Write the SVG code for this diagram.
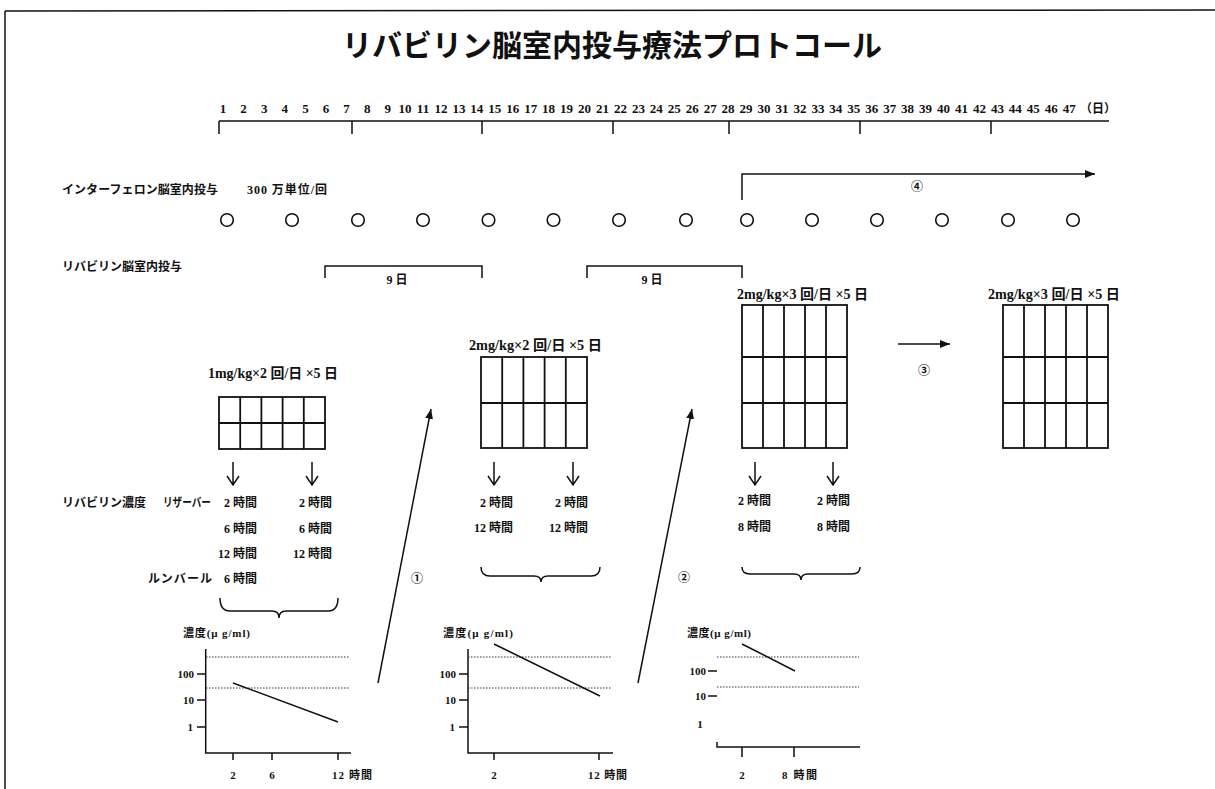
<svg xmlns="http://www.w3.org/2000/svg" width="1215" height="789" viewBox="0 0 1215 789">
<style>
text { font-family: "Liberation Serif", "Noto Sans CJK JP", serif; fill:#111; font-weight:bold; font-size:12px; }
.title { font-family: "Noto Sans CJK JP", sans-serif; font-size:30px; font-weight:bold; text-anchor:middle; }
.jp { font-family: "Noto Sans CJK JP", sans-serif; font-size:12px; font-weight:bold; }
.num { font-size:13px; text-anchor:middle; }
.dose { font-size:14px; }
.mid { text-anchor:middle; }
.end { text-anchor:end; }
.s { font-size:11px; }
.ln { stroke:#111; stroke-width:1.5; fill:none; }
.grid { stroke:#111; stroke-width:1.8; fill:none; }
.dot { stroke:#333; stroke-width:1; stroke-dasharray:1.5 1.5; fill:none; }
.circ { fill:none; stroke:#111; stroke-width:1.6; }
</style>
<defs>
<marker id="ah" viewBox="0 0 10 8" refX="10" refY="4" markerWidth="10" markerHeight="8" markerUnits="userSpaceOnUse" orient="auto"><path d="M0 0 L10 4 L0 8 z" fill="#111"/></marker>
</defs>

<!-- frame -->
<g id="frame">
<line x1="5" y1="11" x2="1215" y2="10" class="ln"/>
<line x1="5" y1="11" x2="5" y2="789" class="ln"/>
</g>

<g id="title"><text x="612" y="56" class="title">リバビリン脳室内投与療法プロトコール</text></g>

<!-- timeline -->
<g id="timeline">
<text y="113" class="num"><tspan x="223">1</tspan><tspan x="243.6">2</tspan><tspan x="264.2">3</tspan><tspan x="284.8">4</tspan><tspan x="305.4">5</tspan><tspan x="326">6</tspan><tspan x="346.6">7</tspan><tspan x="367.2">8</tspan><tspan x="387.8">9</tspan><tspan x="405">10</tspan><tspan x="423">11</tspan><tspan x="440.9">12</tspan><tspan x="458.9">13</tspan><tspan x="476.8">14</tspan><tspan x="494.8">15</tspan><tspan x="512.7">16</tspan><tspan x="530.7">17</tspan><tspan x="548.6">18</tspan><tspan x="566.6">19</tspan><tspan x="584.5">20</tspan><tspan x="602.5">21</tspan><tspan x="620.4">22</tspan><tspan x="638.4">23</tspan><tspan x="656.3">24</tspan><tspan x="674.3">25</tspan><tspan x="692.2">26</tspan><tspan x="710.2">27</tspan><tspan x="728.1">28</tspan><tspan x="746.1">29</tspan><tspan x="764">30</tspan><tspan x="782">31</tspan><tspan x="799.9">32</tspan><tspan x="817.9">33</tspan><tspan x="835.8">34</tspan><tspan x="853.8">35</tspan><tspan x="871.7">36</tspan><tspan x="889.7">37</tspan><tspan x="907.6">38</tspan><tspan x="925.6">39</tspan><tspan x="943.5">40</tspan><tspan x="961.5">41</tspan><tspan x="979.4">42</tspan><tspan x="997.4">43</tspan><tspan x="1015.3">44</tspan><tspan x="1033.3">45</tspan><tspan x="1051.2">46</tspan><tspan x="1069.2">47</tspan></text>
<text x="1098" y="113" class="mid">（日）</text>
<path d="M219 121 H1109 M219 121 V134 M352 121 V134 M482 121 V134 M613 121 V134 M729 121 V134 M860 121 V134 M991 121 V134" class="ln"/>
</g>

<!-- interferon row -->
<g id="interferon">
<text x="62" y="194" class="jp" textLength="156" lengthAdjust="spacing">インターフェロン脳室内投与</text>
<text x="247" y="194" textLength="80" lengthAdjust="spacing">300 万単位/回</text>
<circle cx="227" cy="220" r="6.3" class="circ"/>
<circle cx="292" cy="220" r="6.3" class="circ"/>
<circle cx="358" cy="220" r="6.3" class="circ"/>
<circle cx="423" cy="220" r="6.3" class="circ"/>
<circle cx="488.5" cy="220" r="6.3" class="circ"/>
<circle cx="553.5" cy="220" r="6.3" class="circ"/>
<circle cx="619" cy="220" r="6.3" class="circ"/>
<circle cx="686" cy="220" r="6.3" class="circ"/>
<circle cx="747" cy="220" r="6.3" class="circ"/>
<circle cx="812" cy="220" r="6.3" class="circ"/>
<circle cx="877" cy="220" r="6.3" class="circ"/>
<circle cx="942" cy="220" r="6.3" class="circ"/>
<circle cx="1008" cy="220" r="6.3" class="circ"/>
<circle cx="1073" cy="220" r="6.3" class="circ"/>
</g>

<!-- ribavirin row -->
<g id="ribavirin">
<text x="62" y="271" class="jp">リバビリン脳室内投与</text>
<path d="M325 278 V266 H482 V278" class="ln"/>
<text x="397" y="284" class="mid">9 日</text>
<path d="M587 278 V266 H742 V278" class="ln"/>
<text x="652" y="284" class="mid">9 日</text>
</g>

<!-- dosing grids -->
<g id="grid1">
<text x="208" y="378" class="dose" textLength="130" lengthAdjust="spacingAndGlyphs">1mg/kg×2 回/日 ×5 日</text>
<rect x="219" y="397" width="106" height="52" class="grid"/>
<path d="M240.2 397 V449 M261.4 397 V449 M282.6 397 V449 M303.8 397 V449 M219 423 H325" class="grid"/>
</g>
<g id="grid2">
<text x="469" y="350" class="dose" textLength="133" lengthAdjust="spacingAndGlyphs">2mg/kg×2 回/日 ×5 日</text>
<rect x="481" y="357" width="106" height="91" class="grid"/>
<path d="M502.2 357 V448 M523.4 357 V448 M544.6 357 V448 M565.8 357 V448 M481 403 H587" class="grid"/>
</g>
<g id="grid3">
<text x="737" y="299" class="dose" textLength="131" lengthAdjust="spacingAndGlyphs">2mg/kg×3 回/日 ×5 日</text>
<rect x="742" y="305" width="105" height="143" class="grid"/>
<path d="M763 305 V448 M784 305 V448 M805 305 V448 M826 305 V448 M742 357 H847 M742 403 H847" class="grid"/>
</g>
<g id="grid4">
<text x="988" y="299" class="dose" textLength="132" lengthAdjust="spacingAndGlyphs">2mg/kg×3 回/日 ×5 日</text>
<rect x="1003" y="305" width="105" height="143" class="grid"/>
<path d="M1024 305 V448 M1045 305 V448 M1066 305 V448 M1087 305 V448 M1003 357 H1108 M1003 403 H1108" class="grid"/>
</g>

<!-- sampling labels -->
<g id="sampling">
<text x="62" y="507" class="jp">リバビリン濃度</text>
<text x="163" y="507" class="jp" textLength="48" lengthAdjust="spacingAndGlyphs">リザーバー</text>
<text x="148" y="583" class="jp" textLength="64" lengthAdjust="spacing">ルンバール</text>
<text x="257" y="507" class="end">2 時間</text>
<text x="257" y="533" class="end">6 時間</text>
<text x="257" y="558" class="end">12 時間</text>
<text x="257" y="583" class="end">6 時間</text>
<text x="332" y="507" class="end">2 時間</text>
<text x="332" y="533" class="end">6 時間</text>
<text x="332" y="558" class="end">12 時間</text>
<text x="513" y="507" class="end">2 時間</text>
<text x="513" y="532" class="end">12 時間</text>
<text x="588" y="507" class="end">2 時間</text>
<text x="588" y="532" class="end">12 時間</text>
<text x="771" y="505" class="end">2 時間</text>
<text x="771" y="531" class="end">8 時間</text>
<text x="850" y="505" class="end">2 時間</text>
<text x="850" y="531" class="end">8 時間</text>
</g>

<!-- connectors -->
<g id="connectors">
<path d="M742 200 V174 H1095" class="ln" marker-end="url(#ah)"/>
<text x="917" y="191" class="mid">④</text>
<line x1="898" y1="344" x2="950" y2="344" class="ln" marker-end="url(#ah)"/>
<text x="924" y="375" class="mid">③</text>
<line x1="378" y1="683" x2="431" y2="409" class="ln" marker-end="url(#ah)"/>
<text x="417" y="583" class="mid">①</text>
<line x1="638" y1="683" x2="692" y2="409" class="ln" marker-end="url(#ah)"/>
<text x="684" y="582" class="mid">②</text>
<path d="M233 462 V485 M227 476 L233 485 L239 476 M312 462 V485 M306 476 L312 485 L318 476" class="ln"/>
<path d="M494 462 V485 M488 476 L494 485 L500 476 M573 462 V485 M567 476 L573 485 L579 476" class="ln"/>
<path d="M755 462 V485 M749 476 L755 485 L761 476 M833 462 V485 M827 476 L833 485 L839 476" class="ln"/>
<path d="M220 598 Q220 611 230 611 L272 611 Q279 611 279 618 Q279 611 286 611 L328 611 Q338 611 338 598" class="ln"/>
<path d="M481 567 Q481 576 490 576 L534 576 Q541 576 541 582 Q541 576 548 576 L591 576 Q600 576 600 567" class="ln"/>
<path d="M742 567 Q742 574 750 574 L794 574 Q801 574 801 580 Q801 574 808 574 L852 574 Q860 574 860 567" class="ln"/>
</g>

<!-- chart 1 -->
<g id="chart1">
<text x="183" y="637" class="s" textLength="67" lengthAdjust="spacing">濃度(μ g/ml)</text>
<path d="M205.7 649 V753 H351" class="ln"/>
<line x1="206" y1="657" x2="349" y2="657" class="dot"/>
<line x1="206" y1="688" x2="349" y2="688" class="dot"/>
<path d="M197 674 H205.7 M197 700 H205.7 M197 727 H205.7 M233 753 V760 M272 753 V760 M338 753 V760" class="ln"/>
<text x="194" y="678" class="s end">100</text>
<text x="194" y="704" class="s end">10</text>
<text x="193" y="731" class="s end">1</text>
<text x="233" y="779" class="s mid">2</text>
<text x="272" y="779" class="s mid">6</text>
<text x="332" y="779" class="s" textLength="40" lengthAdjust="spacing">12 時間</text>
<line x1="233" y1="683" x2="338" y2="722" class="ln"/>
</g>

<!-- chart 2 -->
<g id="chart2">
<text x="443" y="637" class="s" textLength="70" lengthAdjust="spacing">濃度(μ g/ml)</text>
<path d="M468 649 V753 H613" class="ln"/>
<line x1="468" y1="657" x2="612" y2="657" class="dot"/>
<line x1="468" y1="688" x2="612" y2="688" class="dot"/>
<path d="M459 674 H468 M459 700 H468 M459 727 H468 M494 753 V760 M599 753 V760" class="ln"/>
<text x="456" y="678" class="s end">100</text>
<text x="456" y="704" class="s end">10</text>
<text x="455" y="731" class="s end">1</text>
<text x="494" y="779" class="s mid">2</text>
<text x="588" y="779" class="s" textLength="39" lengthAdjust="spacing">12 時間</text>
<line x1="494" y1="644" x2="600" y2="696" class="ln"/>
</g>

<!-- chart 3 -->
<g id="chart3">
<text x="687" y="637" class="s" textLength="64" lengthAdjust="spacing">濃度(μ g/ml)</text>
<path d="M717 742 V747 H860" class="ln"/>
<line x1="717" y1="657" x2="859" y2="657" class="dot"/>
<line x1="717" y1="687" x2="859" y2="687" class="dot"/>
<path d="M708 671 H717 M708 696 H717 M742 747 V757 M794 747 V757" class="ln"/>
<text x="706" y="675" class="s end">100</text>
<text x="706" y="700" class="s end">10</text>
<text x="700" y="728" class="s mid">1</text>
<text x="742" y="779" class="s mid">2</text>
<text x="782" y="779" class="s" textLength="35" lengthAdjust="spacing">8 時間</text>
<line x1="742" y1="644" x2="795" y2="671" class="ln"/>
</g>
</svg>
